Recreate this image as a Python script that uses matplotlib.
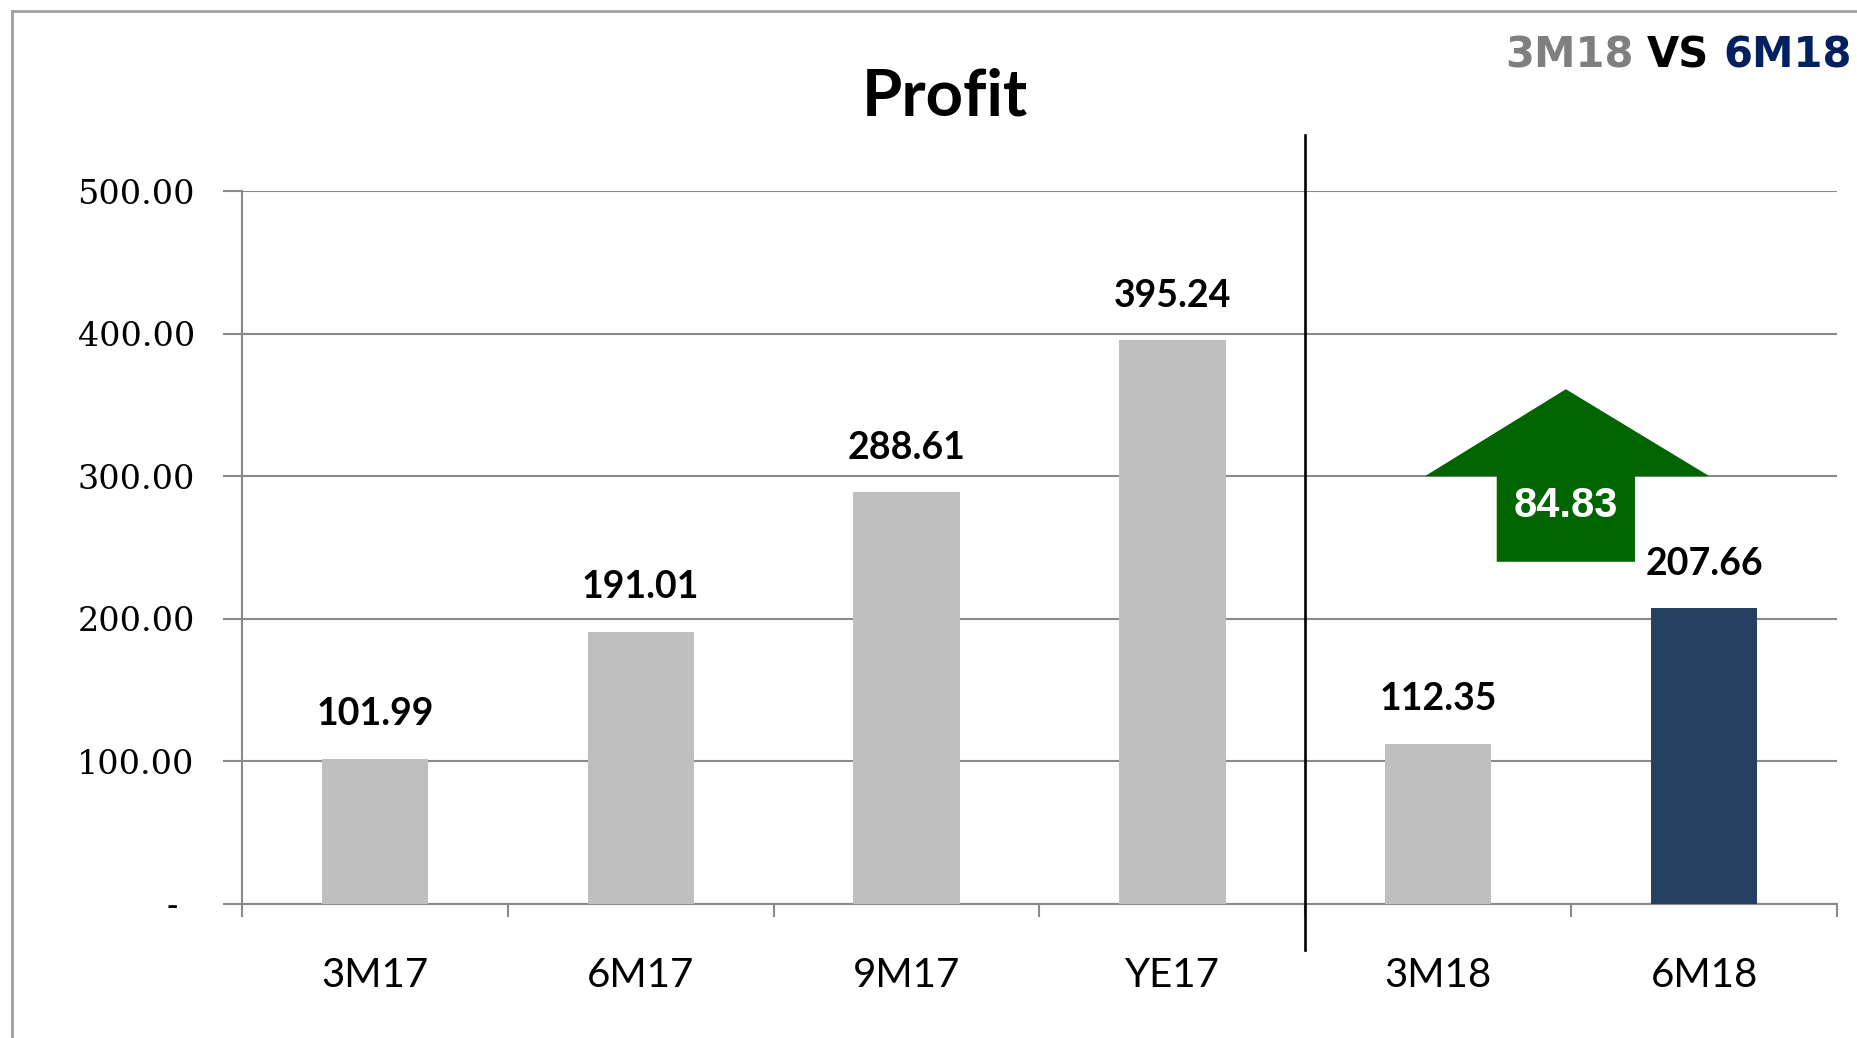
import matplotlib
matplotlib.use("Agg")
import matplotlib.pyplot as plt
from matplotlib.patches import Polygon
from matplotlib.ticker import FuncFormatter, FixedLocator
import matplotlib.transforms as mtransforms

# ---- data ----
categories = ["3M17", "6M17", "9M17", "YE17", "3M18", "6M18"]
profit = [101.99, 191.01, 288.61, 395.24, 112.35, 207.66]
bar_colors = ["#BFBFBF", "#BFBFBF", "#BFBFBF", "#BFBFBF", "#BFBFBF", "#243F60"]
y_ticks = [0, 100, 200, 300, 400, 500]
change_label = "84.83"
title = "Profit"
compare_parts = ["3M18", "VS", "6M18"]
compare_colors = ["#7F7F7F", "#000000", "#002060"]

W, H, DPI = 1858, 1038, 100
fig = plt.figure(figsize=(W / DPI, H / DPI), dpi=DPI)
fig.patch.set_facecolor("white")

ax = fig.add_axes([242 / W, 1 - 904 / H, (1837 - 242) / W, (904 - 191) / H])
x = list(range(len(categories)))
ax.bar(x, profit, width=0.4, color=bar_colors, zorder=3)
ax.set_xlim(-0.5, len(categories) - 0.5)
ax.set_ylim(0, 500)

grid_c = "#8A8A8A"
for s in ["top", "right"]:
    ax.spines[s].set_visible(False)
for s in ["left", "bottom"]:
    ax.spines[s].set_color(grid_c)
    ax.spines[s].set_linewidth(1.5)

ax.yaxis.set_major_locator(FixedLocator(y_ticks))
ax.yaxis.set_major_formatter(FuncFormatter(lambda v, p: "-\u2002" if v == 0 else f"{v:.2f}"))
ax.yaxis.grid(True, color=grid_c, linewidth=1.5)
ax.set_axisbelow(True)
ax.tick_params(axis="y", length=14, width=1.5, color=grid_c, pad=20,
               labelsize=24, labelcolor="#000000")
for lab in ax.get_yticklabels():
    lab.set_fontfamily("DejaVu Serif")

ax.set_xticks(x)
ax.set_xticklabels(categories, fontfamily="Lato", fontsize=29)
ax.tick_params(axis="x", which="major", length=0, pad=38)
ax.set_xticks([i - 0.5 for i in range(len(categories) + 1)], minor=True)
ax.tick_params(axis="x", which="minor", length=9, width=1.5, color=grid_c)

# value labels
for xi, v in zip(x, profit):
    ax.annotate(f"{v:.2f}", (xi, v), xytext=(0, 24), textcoords="offset points",
                ha="center", va="baseline", fontsize=27, fontweight="bold",
                fontfamily="Lato", color="#000000", zorder=5)

# divider between 2017 and 2018
trans = mtransforms.blended_transform_factory(ax.transData, ax.transAxes)
ax.plot([3.5, 3.5], [-0.0645, 1.078], transform=trans, color="black",
        linewidth=1.9, clip_on=False, zorder=4)

# up arrow callout
arrow = Polygon([(4.48, 361), (5.02, 300), (4.74, 300), (4.74, 240),
                 (4.22, 240), (4.22, 300), (3.95, 300)], closed=True,
                facecolor="#006400", edgecolor="none", zorder=6, clip_on=False)
ax.add_patch(arrow)
ax.text(4.48, 279, change_label, ha="center", va="center", fontsize=30,
        fontweight="bold", fontfamily="Liberation Sans", color="white", zorder=7)

# title
fig.text(945 / W, 1 - 115 / H, title, ha="center", va="baseline", fontsize=47,
         fontweight="bold", fontfamily="Lato", color="black")

# outer frame lines
fig.add_artist(plt.Line2D([12 / W, 12 / W], [0, 1 - 11 / H], color="#A0A0A0", linewidth=2))
fig.add_artist(plt.Line2D([12 / W, 1], [1 - 11 / H, 1 - 11 / H], color="#A0A0A0", linewidth=2))

# comparison heading, right aligned
renderer = fig.canvas.get_renderer()
xr = 1852
gap = 14
for part, col in zip(reversed(compare_parts), reversed(compare_colors)):
    t = fig.text(xr / W, 1 - 67 / H, part, ha="right", va="baseline", fontsize=30,
                 fontweight="bold", fontfamily="DejaVu Sans", color=col)
    bb = t.get_window_extent(renderer)
    xr = bb.x0 - gap

fig.savefig("out.png", dpi=DPI, facecolor="white")
